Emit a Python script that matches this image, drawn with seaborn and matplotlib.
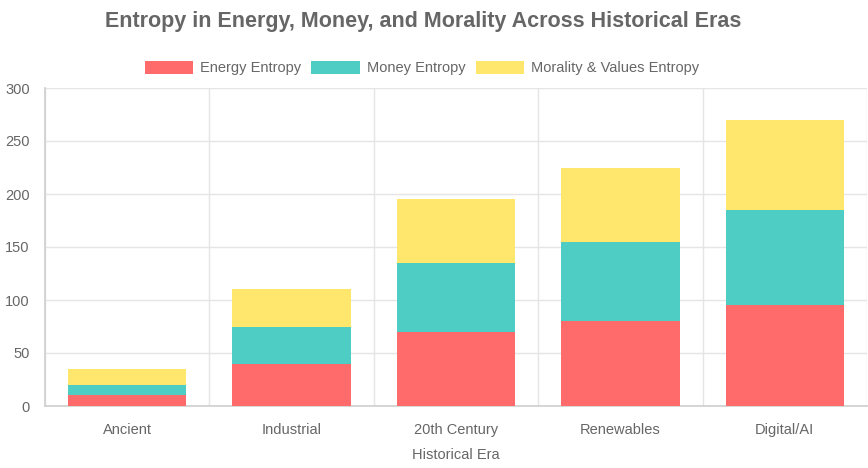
import matplotlib
matplotlib.use("Agg")
import matplotlib.pyplot as plt
import seaborn as sns
import pandas as pd
import numpy as np
from matplotlib.patches import Patch

eras = ["Ancient", "Industrial", "20th Century", "Renewables", "Digital/AI"]
energy = [10, 40, 70, 80, 95]
money = [10, 35, 65, 75, 90]
morality = [15, 35, 60, 70, 85]
series_names = ["Energy Entropy", "Money Entropy", "Morality & Values Entropy"]
colors = ["#FF6B6B", "#4ECDC4", "#FFE66D"]

sns.set_theme(style="white")
plt.rcParams["font.family"] = ["Liberation Sans", "DejaVu Sans"]

fig = plt.figure(figsize=(8.68, 4.68), dpi=100)
W, H = 868, 468
ax = fig.add_axes([45 / W, 1 - 406 / H, (867 - 45) / W, (406 - 88) / H])

e = np.array(energy)
m = np.array(money)
v = np.array(morality)
cum_all = e + m + v
cum_em = e + m

df = pd.DataFrame({"era": eras, "total": cum_all, "em": cum_em, "e": e})
for col, c in zip(["total", "em", "e"], colors[::-1]):
    sns.barplot(data=df, x="era", y=col, color=c, width=0.72, ax=ax,
                saturation=1, linewidth=0, zorder=3)

ax.set_ylim(0, 300)
ax.set_xlim(-0.5, 4.5)
ax.set_yticks(range(0, 301, 50))
ax.set_xlabel("Historical Era", fontsize=10.5, color="#666666", labelpad=8)
ax.set_ylabel("")
ax.grid(axis="y", color="#e5e5e5", linewidth=1, zorder=0)
for xb in np.arange(-0.5, 5.0, 1.0):
    ax.axvline(xb, color="#e5e5e5", linewidth=1, zorder=0)
for s in ["top", "right"]:
    ax.spines[s].set_visible(False)
ax.spines["left"].set_color("#d0d0d0")
ax.spines["bottom"].set_color("#d0d0d0")
ax.tick_params(axis="both", colors="#666666", labelsize=10.5, length=8, width=1)
ax.tick_params(axis="x", length=0, pad=12)
ax.tick_params(axis="y", color="#e5e5e5", pad=3)
ax.set_xticks(np.arange(-0.5, 5.0, 1.0), minor=True)
ax.tick_params(axis="x", which="minor", length=8, color="#e5e5e5")

fig.suptitle("Entropy in Energy, Money, and Morality Across Historical Eras",
             x=423 / W, y=1 - 22 / H, va="center", fontsize=15.5, fontweight="bold",
             color="#666666")

handles = [Patch(facecolor=c, edgecolor="none") for c in colors]
fig.legend(handles, series_names, loc="center", bbox_to_anchor=(422 / W, 1 - 68 / H),
           ncol=3, frameon=False, fontsize=10.5, labelcolor="#666666",
           handlelength=3.3, handleheight=1.0, handletextpad=0.5, columnspacing=0.7)

fig.savefig("out.png", dpi=100)
